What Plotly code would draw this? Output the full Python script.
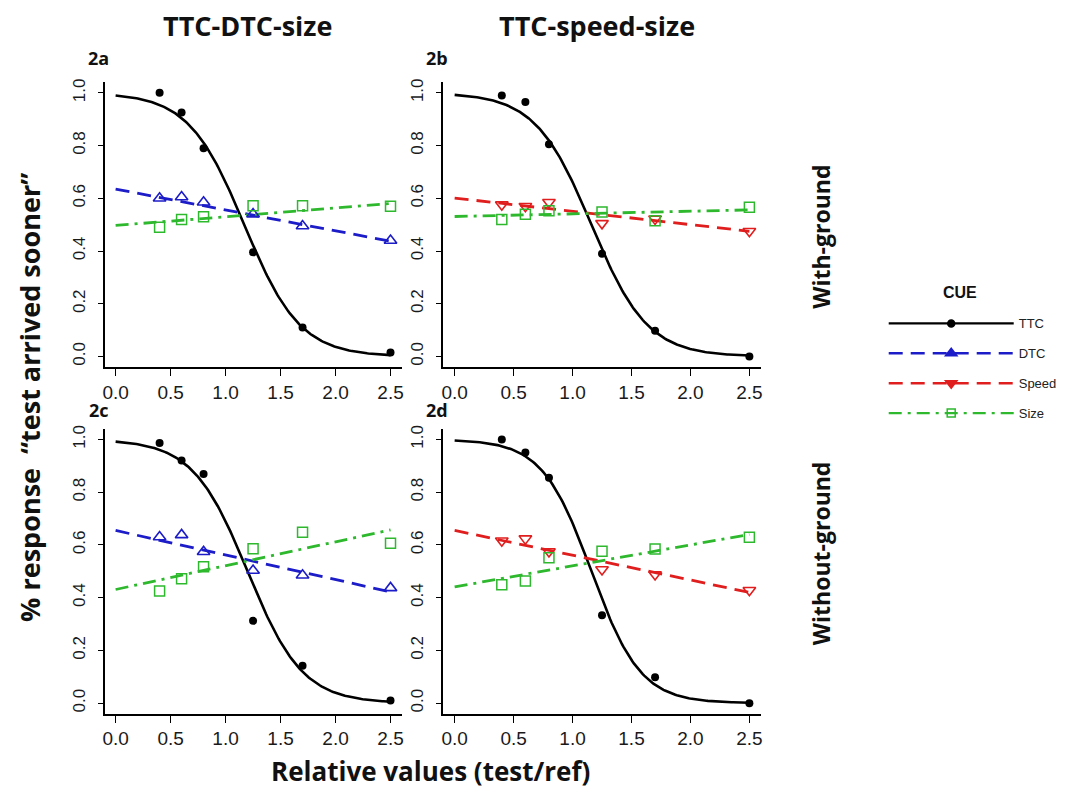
import numpy as np
import plotly.graph_objects as go

W, H = 1077, 789

# stimulus levels (test/ref ratio)
X_LEVELS = [0.4, 0.6, 0.8, 1.25, 1.7, 2.5]

# proportion of "test arrived sooner" responses per panel and cue
TTC_A = [1.00, 0.925, 0.79, 0.395, 0.11, 0.015]
DTC_A = [0.60, 0.605, 0.585, 0.54, 0.495, 0.44]
SIZE_A = [0.49, 0.52, 0.53, 0.572, 0.572, 0.57]

TTC_B = [0.99, 0.965, 0.805, 0.39, 0.098, 0.0]
SPEED_B = [0.576, 0.57, 0.585, 0.505, 0.522, 0.475]
SIZE_B = [0.52, 0.54, 0.553, 0.548, 0.515, 0.566]

TTC_C = [0.987, 0.92, 0.869, 0.312, 0.142, 0.01]
DTC_C = [0.63, 0.638, 0.574, 0.503, 0.485, 0.437]
SIZE_C = [0.425, 0.472, 0.517, 0.586, 0.648, 0.606]

TTC_D = [1.0, 0.951, 0.855, 0.333, 0.098, 0.0]
SPEED_D = [0.616, 0.624, 0.575, 0.507, 0.488, 0.428]
SIZE_D = [0.449, 0.463, 0.551, 0.576, 0.585, 0.629]

# logistic fits for TTC: midpoint and steepness per panel a, b, c, d
TTC_FIT_MID = [1.17, 1.16, 1.20, 1.16]
TTC_FIT_SLOPE = [3.94, 4.2, 4.0, 4.8]

# linear fits for the other cues: value at 0 and at 2.5 per panel a, b, c, d
CUE_FIT_START = [0.635, 0.601, 0.655, 0.655]
CUE_FIT_END = [0.437, 0.475, 0.422, 0.42]
SIZE_FIT_START = [0.497, 0.531, 0.431, 0.441]
SIZE_FIT_END = [0.58, 0.556, 0.657, 0.64]

PANEL_LABELS = ["2a", "2b", "2c", "2d"]
COL_TITLES = ["TTC-DTC-size", "TTC-speed-size"]
ROW_TITLES = ["With-ground", "Without-ground"]
LEGEND_NAMES = ["TTC", "DTC", "Speed", "Size"]
X_TICKS = [0.0, 0.5, 1.0, 1.5, 2.0, 2.5]
Y_TICKS = [0.0, 0.2, 0.4, 0.6, 0.8, 1.0]

BLACK = "#000000"
BLUE = "#1c1cc8"
RED = "#e01e1e"
GREEN = "#2eb82e"

TITLE_FONT = "Open Sans"
TICK_FONT = "Liberation Sans, Arial, sans-serif"

# panel boxes in pixels: (left, right, top, bottom)
PANEL_BOX = [
    (103, 401, 78.7, 364.9),
    (442.5, 762, 78.7, 364.9),
    (103, 401, 427.1, 713.3),
    (442.5, 762, 427.1, 713.3),
]

panels = [
    dict(ttc=TTC_A, cue=DTC_A, size=SIZE_A, cue_color=BLUE, cue_symbol="triangle-up-open"),
    dict(ttc=TTC_B, cue=SPEED_B, size=SIZE_B, cue_color=RED, cue_symbol="triangle-down-open"),
    dict(ttc=TTC_C, cue=DTC_C, size=SIZE_C, cue_color=BLUE, cue_symbol="triangle-up-open"),
    dict(ttc=TTC_D, cue=SPEED_D, size=SIZE_D, cue_color=RED, cue_symbol="triangle-down-open"),
]

DASH = "14px,8px"
DASHDOT = "13px,6px,3px,6px"

fig = go.Figure()
layout_axes = {}
xgrid = np.linspace(0, 2.5, 200)

for i, p in enumerate(panels):
    n = "" if i == 0 else str(i + 1)
    xa, ya = "x" + n, "y" + n
    l, r, t, b = PANEL_BOX[i]

    ttc_curve = 1.0 / (1.0 + np.exp(TTC_FIT_SLOPE[i] * (xgrid - TTC_FIT_MID[i])))
    fig.add_trace(go.Scatter(x=xgrid, y=ttc_curve, mode="lines", xaxis=xa, yaxis=ya,
                             line=dict(color=BLACK, width=2.6), showlegend=False, hoverinfo="skip"))
    fig.add_trace(go.Scatter(x=[0, 2.5], y=[CUE_FIT_START[i], CUE_FIT_END[i]], mode="lines",
                             xaxis=xa, yaxis=ya, line=dict(color=p["cue_color"], width=2.8, dash=DASH),
                             showlegend=False, hoverinfo="skip"))
    fig.add_trace(go.Scatter(x=[0, 2.5], y=[SIZE_FIT_START[i], SIZE_FIT_END[i]], mode="lines",
                             xaxis=xa, yaxis=ya, line=dict(color=GREEN, width=2.8, dash=DASHDOT),
                             showlegend=False, hoverinfo="skip"))
    fig.add_trace(go.Scatter(x=X_LEVELS, y=p["ttc"], mode="markers", xaxis=xa, yaxis=ya,
                             marker=dict(color=BLACK, size=8, symbol="circle"), showlegend=False))
    fig.add_trace(go.Scatter(x=X_LEVELS, y=p["cue"], mode="markers", xaxis=xa, yaxis=ya,
                             marker=dict(color=p["cue_color"], size=11, symbol=p["cue_symbol"],
                                         line=dict(width=1.6, color=p["cue_color"])), showlegend=False))
    fig.add_trace(go.Scatter(x=X_LEVELS, y=p["size"], mode="markers", xaxis=xa, yaxis=ya,
                             marker=dict(color=GREEN, size=10, symbol="square-open",
                                         line=dict(width=1.5, color=GREEN)), showlegend=False))

    common = dict(showgrid=False, zeroline=False, showline=True, linecolor=BLACK, linewidth=2,
                  ticks="outside", tickcolor=BLACK, tickwidth=1.3, mirror=False)
    layout_axes["xaxis" + n] = dict(
        common, domain=[l / W, r / W], range=[-0.1, 2.6], anchor=ya,
        tickvals=X_TICKS, ticktext=[f"{v:.1f}" for v in X_TICKS], ticklen=7,
        tickfont=dict(family=TICK_FONT, size=19, color="#1a1a1a"))
    layout_axes["yaxis" + n] = dict(
        common, domain=[1 - b / H, 1 - t / H], range=[-0.04, 1.04], anchor=xa,
        tickvals=Y_TICKS, ticktext=[f"{v:.1f}" for v in Y_TICKS], ticklen=5, tickangle=-90,
        ticklabelstandoff=6, tickfont=dict(family=TICK_FONT, size=17, color="#1a1a1a"))

# legend entries
legend_styles = [
    (BLACK, None, "circle", 7),
    (BLUE, DASH, "triangle-up", 10),
    (RED, DASH, "triangle-down", 10),
    (GREEN, DASHDOT, "square-open", 8),
]
for name, (color, dash, sym, msize) in zip(LEGEND_NAMES, legend_styles):
    fig.add_trace(go.Scatter(x=[None], y=[None], mode="lines+markers", name=name,
                             legendgroup=name,
                             line=dict(color=color, width=2.4, dash=dash),
                             marker=dict(color=color, symbol=sym, size=msize, line=dict(color=color, width=1.5)),
                             showlegend=True))

annotations = []

def add_text(text, px, py, size, angle=0, family=TITLE_FONT):
    annotations.append(dict(text=text, x=px / W, y=1 - py / H, xref="paper", yref="paper",
                            showarrow=False, textangle=angle, xanchor="center", yanchor="middle",
                            font=dict(family=family, size=size, color="#111", weight="bold")))

add_text(COL_TITLES[0], 246, 22, 27)
add_text(COL_TITLES[1], 597, 22, 27)
for lab, (px, py) in zip(PANEL_LABELS, [(97, 54), (437, 54), (97, 408), (437, 408)]):
    add_text(lab, px, py, 18)
add_text(ROW_TITLES[0], 822, 234, 23, angle=-90)
add_text(ROW_TITLES[1], 822, 552, 23, angle=-90)
add_text("% response  \u201ctest arrived sooner\u201d", 28, 395, 27, angle=-90)
add_text("Relative values (test/ref)", 430, 771, 26)
add_text("CUE", 962, 290, 16, family=TICK_FONT)

fig.update_layout(
    width=W, height=H, margin=dict(l=0, r=0, t=0, b=0),
    paper_bgcolor="white", plot_bgcolor="white",
    annotations=annotations,
    legend=dict(x=885 / W, y=1 - 306 / H, xanchor="left", yanchor="top",
                font=dict(family=TICK_FONT, size=13, color="#222"),
                itemwidth=125, tracegroupgap=10, bgcolor="rgba(0,0,0,0)"),
    **layout_axes,
)

fig.write_html("out.html")
